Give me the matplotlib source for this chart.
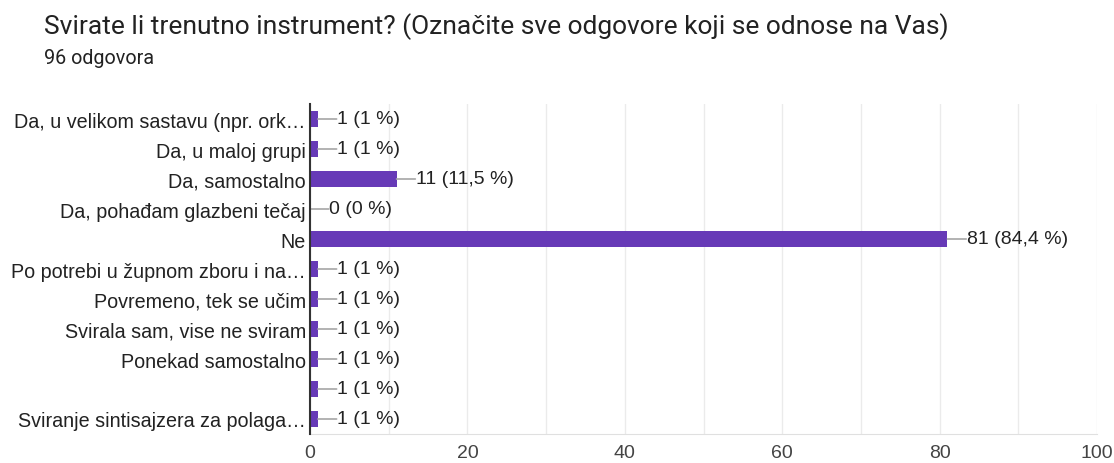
import numpy as np
import matplotlib.pyplot as plt
from matplotlib.ticker import MultipleLocator

title = "Svirate li trenutno instrument? (Označite sve odgovore koji se odnose na Vas)"
subtitle = "96 odgovora"

categories = [
    "Da, u velikom sastavu (npr. ork…",
    "Da, u maloj grupi",
    "Da, samostalno",
    "Da, pohađam glazbeni tečaj",
    "Ne",
    "Po potrebi u župnom zboru i na…",
    "Povremeno, tek se učim",
    "Svirala sam, vise ne sviram",
    "Ponekad samostalno",
    "",
    "Sviranje sintisajzera za polaga…",
]
counts = [1, 1, 11, 0, 81, 1, 1, 1, 1, 1, 1]
percents = ["1 %", "1 %", "11,5 %", "0 %", "84,4 %", "1 %", "1 %", "1 %", "1 %", "1 %", "1 %"]

purple = "#673ab7"
text_col = "#222222"

fig = plt.figure(figsize=(11.14, 4.64), dpi=100)
ax = fig.add_axes([310 / 1114, 1 - 435 / 464, 787 / 1114, 330 / 464])

y = np.arange(len(categories))
ax.barh(y, counts, height=0.56, color=purple, zorder=3)

for yi, c, p in zip(y, counts, percents):
    ax.annotate("", xy=(c, yi), xytext=(13.5, 0), textcoords="offset points",
                arrowprops=dict(arrowstyle="-", color="#a6a6a6", lw=1.2,
                                shrinkA=0, shrinkB=0), zorder=4)
    ax.annotate(f"{c} ({p})", xy=(c, yi), xytext=(14, 0), textcoords="offset points",
                va="center", ha="left", fontsize=14, color=text_col,
                family="Liberation Sans")

ax.set_xlim(0, 100)
ax.set_ylim(len(categories) - 0.5, -0.5)
ax.set_yticks(y)
ax.set_yticklabels(categories, fontsize=14.2, color=text_col, family="Liberation Sans")
ax.xaxis.set_major_locator(MultipleLocator(20))
ax.xaxis.set_minor_locator(MultipleLocator(10))
ax.tick_params(axis="x", which="both", length=0, labelsize=14, colors="#444444", pad=7)
ax.tick_params(axis="y", length=0, pad=3)
for lbl in ax.get_xticklabels():
    lbl.set_family("Liberation Sans")
ax.grid(axis="x", which="both", color="#ebebeb", lw=1, zorder=0)

for s in ["top", "right"]:
    ax.spines[s].set_visible(False)
ax.spines["left"].set_color("#333333")
ax.spines["left"].set_linewidth(1.5)
ax.spines["left"].set_zorder(5)
ax.spines["bottom"].set_color("#e0e0e0")

fig.text(44 / 1114, 1 - 27 / 464, title, fontsize=19, color=text_col,
         family="Roboto", va="center", ha="left")
fig.text(44 / 1114, 1 - 59 / 464, subtitle, fontsize=14.2, color=text_col,
         family="Roboto", va="center", ha="left")

fig.savefig("out.png", dpi=100, facecolor="white")
plt.close()
